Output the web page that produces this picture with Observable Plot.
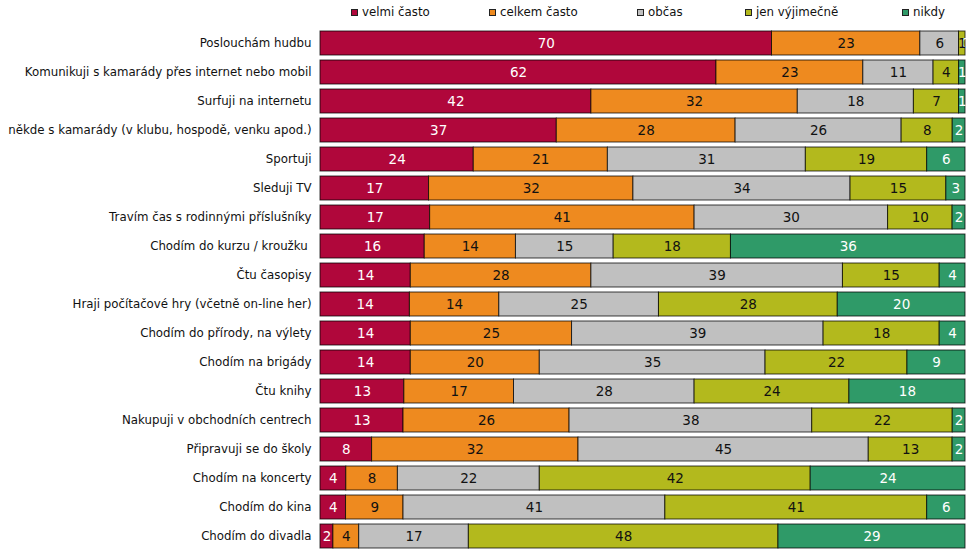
<!DOCTYPE html>
<html>
<head>
<meta charset="utf-8">
<script src="https://cdn.jsdelivr.net/npm/d3@7"></script>
<script src="https://cdn.jsdelivr.net/npm/@observablehq/plot@0.6"></script>
<style>
  html, body { margin: 0; padding: 0; background: #fff; }
  #wrap { width: 970px; height: 555px; position: relative; font-family: "DejaVu Sans", Verdana, sans-serif; overflow: hidden; }
  #legend { position: relative; height: 28px; font-size: 11.8px; color: #111; }
  .li { position: absolute; top: 5px; display: flex; align-items: center; white-space: nowrap; line-height: 15px; }
  .sw { width: 7px; height: 7px; border: 1px solid #222; margin-right: 4px; box-sizing: border-box; }
  #chart svg { display: block; }
</style>
</head>
<body>
<div id="wrap">
  <div id="legend"></div>
  <div id="chart"></div>
</div>
<script>
const categories = [
  "Poslouchám hudbu",
  "Komunikuji s kamarády přes internet nebo mobil",
  "Surfuji na internetu",
  "někde s kamarády (v klubu, hospodě, venku apod.)",
  "Sportuji",
  "Sleduji TV",
  "Travím čas s rodinnými příslušníky",
  "Chodím do kurzu / kroužku ",
  "Čtu časopisy",
  "Hraji počítačové hry (včetně on-line her)",
  "Chodím do přírody, na výlety",
  "Chodím na brigády",
  "Čtu knihy",
  "Nakupuji v obchodních centrech",
  "Připravuji se do školy",
  "Chodím na koncerty",
  "Chodím do kina",
  "Chodím do divadla"
];
const seriesNames = ["velmi často", "celkem často", "občas", "jen výjimečně", "nikdy"];
const velmiCasto   = [70, 62, 42, 37, 24, 17, 17, 16, 14, 14, 14, 14, 13, 13,  8,  4,  4,  2];
const celkemCasto  = [23, 23, 32, 28, 21, 32, 41, 14, 28, 14, 25, 20, 17, 26, 32,  8,  9,  4];
const obcas        = [ 6, 11, 18, 26, 31, 34, 30, 15, 39, 25, 39, 35, 28, 38, 45, 22, 41, 17];
const jenVyjimecne = [ 1,  4,  7,  8, 19, 15, 10, 18, 15, 28, 18, 22, 24, 22, 13, 42, 41, 48];
const nikdy        = [ 0,  1,  1,  2,  6,  3,  2, 36,  4, 20,  4,  9, 18,  2,  2, 24,  6, 29];
const colors = ["#B0073B", "#EE8A1F", "#C0C0C0", "#B3B91D", "#2F9A68"];

const seriesValues = [velmiCasto, celkemCasto, obcas, jenVyjimecne, nikdy];
const data = [];
categories.forEach((c, i) => {
  seriesNames.forEach((s, j) => {
    data.push({category: c, series: s, value: seriesValues[j][i]});
  });
});

// legend
const legendX = [351, 489, 637, 745, 902];
const legend = document.getElementById("legend");
seriesNames.forEach((s, j) => {
  const d = document.createElement("div");
  d.className = "li";
  d.style.left = legendX[j] + "px";
  d.innerHTML = `<span class="sw" style="background:${colors[j]}"></span><span>${s}</span>`;
  legend.appendChild(d);
});

const stackOpts = {x: "value", y: "category", z: "series", offset: "normalize", order: null};
const whiteSeries = new Set(["velmi často", "nikdy"]);

const chart = Plot.plot({
  width: 970,
  height: 527,
  marginLeft: 320,
  marginRight: 5,
  marginTop: 0.5,
  marginBottom: 4.5,
  style: {fontFamily: "DejaVu Sans, Verdana, sans-serif", fontSize: "11.8px", color: "#111", background: "#fff"},
  x: {axis: null},
  y: {domain: categories, paddingInner: 0.17, paddingOuter: 0.085, label: null, tickSize: 0, tickPadding: 9},
  color: {domain: seriesNames, range: colors},
  marks: [
    Plot.barX(data, Plot.stackX({...stackOpts, fill: "series", stroke: "#000", strokeOpacity: 0.75, strokeWidth: 1})),
    Plot.text(data, Plot.stackX({...stackOpts, text: d => whiteSeries.has(d.series) ? String(d.value) : "", fill: "white", fontSize: 13.5})),
    Plot.text(data, Plot.stackX({...stackOpts, text: d => whiteSeries.has(d.series) ? "" : String(d.value), fill: "#111", fontSize: 13.5}))
  ]
});
document.getElementById("chart").appendChild(chart);
</script>
</body>
</html>
